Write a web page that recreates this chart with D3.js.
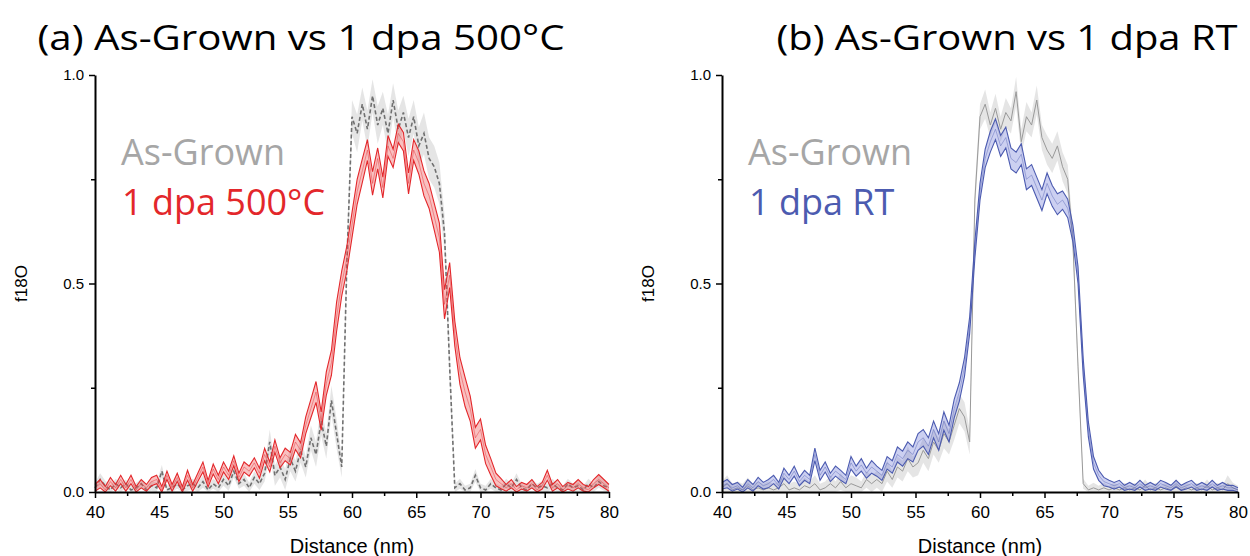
<!DOCTYPE html>
<html>
<head>
<meta charset="utf-8">
<script src="https://cdn.jsdelivr.net/npm/d3@7"></script>
<style>
  body { margin: 0; background: #fff; }
  svg { display: block; }
</style>
</head>
<body>
<div id="chart"></div>
<script>
// distance grid (nm), sampled every 0.4 nm
var distance = d3.range(0, 101).map(function(i) { return +(40 + i * 0.4).toFixed(1); });

// panel (a) As-Grown, mean and half-width of the band
var grownA = [
  0.01, 0.03, 0.015, 0.005, 0.02, 0.01, 0.02, 0.005, 0.01, 0.02,
  0.005, 0.015, 0.01, 0.05, 0.005, 0.01, 0.02, 0.005, 0.015, 0.02,
  0.01, 0.025, 0.005, 0.02, 0.01, 0.03, 0.015, 0.05, 0.02, 0.03,
  0.01, 0.035, 0.02, 0.045, 0.12, 0.04, 0.06, 0.03, 0.08, 0.05,
  0.1, 0.06, 0.13, 0.09, 0.17, 0.11, 0.22, 0.14, 0.06, 0.55,
  0.9, 0.86, 0.93, 0.87, 0.95, 0.88, 0.92, 0.86, 0.94, 0.87,
  0.91, 0.85, 0.9, 0.83, 0.86, 0.8, 0.78, 0.74, 0.62, 0.3,
  0.01, 0.02, 0.005, 0.01, 0.04, 0.01, 0.005, 0.02, 0.01, 0.005,
  0.02, 0.01, 0.03, 0.01, 0.005, 0.02, 0.01, 0.015, 0.01, 0.02,
  0.01, 0.005, 0.02, 0.01, 0.015, 0.005, 0.02, 0.01, 0.025, 0.015, 0.01
];
var grownAErr = [
  0.012, 0.015, 0.012, 0.01, 0.012, 0.012, 0.01, 0.01, 0.012, 0.012,
  0.01, 0.012, 0.012, 0.015, 0.01, 0.012, 0.012, 0.01, 0.012, 0.012,
  0.012, 0.015, 0.01, 0.012, 0.012, 0.015, 0.012, 0.015, 0.012, 0.015,
  0.012, 0.015, 0.015, 0.02, 0.03, 0.025, 0.025, 0.025, 0.03, 0.025,
  0.03, 0.025, 0.03, 0.03, 0.035, 0.03, 0.035, 0.035, 0.025, 0.04,
  0.04, 0.045, 0.04, 0.045, 0.04, 0.045, 0.04, 0.045, 0.04, 0.045,
  0.04, 0.045, 0.04, 0.045, 0.05, 0.05, 0.05, 0.05, 0.045, 0.04,
  0.01, 0.012, 0.01, 0.01, 0.015, 0.01, 0.01, 0.012, 0.01, 0.01,
  0.012, 0.01, 0.015, 0.01, 0.01, 0.012, 0.01, 0.012, 0.01, 0.012,
  0.01, 0.01, 0.012, 0.01, 0.012, 0.01, 0.012, 0.01, 0.015, 0.012, 0.01
];

// panel (a) 1 dpa 500°C
var dpa500 = [
  0.01, 0.02, 0.005, 0.025, 0.01, 0.03, 0.01, 0.03, 0.005, 0.02,
  0.01, 0.025, 0.03, 0.005, 0.04, 0.01, 0.035, 0.005, 0.04, 0.01,
  0.035, 0.06, 0.02, 0.055, 0.03, 0.06, 0.04, 0.075, 0.035, 0.06,
  0.05, 0.07, 0.045, 0.09, 0.06, 0.11, 0.07, 0.09, 0.08, 0.12,
  0.1, 0.16, 0.2, 0.24, 0.17, 0.26, 0.31, 0.42, 0.5, 0.56,
  0.64, 0.72, 0.77, 0.82, 0.74, 0.8, 0.73, 0.83, 0.8, 0.86,
  0.84, 0.74, 0.82, 0.79, 0.74, 0.71, 0.66, 0.61, 0.45, 0.52,
  0.38, 0.29, 0.24, 0.2, 0.13, 0.15, 0.09, 0.06, 0.03, 0.02,
  0.01, 0.02, 0.005, 0.015, 0.01, 0.02, 0.005, 0.015, 0.04, 0.01,
  0.02, 0.005, 0.015, 0.01, 0.02, 0.01, 0.005, 0.02, 0.03, 0.02, 0.01
];
var dpa500Err = [
  0.008, 0.01, 0.008, 0.01, 0.008, 0.01, 0.008, 0.01, 0.008, 0.01,
  0.008, 0.01, 0.01, 0.008, 0.01, 0.008, 0.01, 0.008, 0.012, 0.008,
  0.01, 0.012, 0.008, 0.012, 0.01, 0.012, 0.01, 0.012, 0.01, 0.012,
  0.012, 0.012, 0.012, 0.015, 0.012, 0.015, 0.012, 0.015, 0.015, 0.018,
  0.018, 0.02, 0.022, 0.025, 0.022, 0.028, 0.03, 0.035, 0.03, 0.03,
  0.03, 0.03, 0.028, 0.025, 0.028, 0.025, 0.025, 0.025, 0.022, 0.022,
  0.022, 0.025, 0.025, 0.028, 0.03, 0.03, 0.032, 0.035, 0.035, 0.03,
  0.03, 0.032, 0.035, 0.03, 0.025, 0.025, 0.022, 0.02, 0.015, 0.012,
  0.008, 0.01, 0.008, 0.008, 0.008, 0.01, 0.008, 0.008, 0.012, 0.008,
  0.01, 0.008, 0.008, 0.008, 0.01, 0.008, 0.008, 0.01, 0.012, 0.01, 0.008
];

// panel (b) As-Grown
var grownB = [
  0.01, 0.02, 0.005, 0.01, 0.005, 0.015, 0.005, 0.01, 0.005, 0.01,
  0.005, 0.01, 0.02, 0.005, 0.01, 0.005, 0.015, 0.01, 0.02, 0.005,
  0.01, 0.02, 0.01, 0.025, 0.01, 0.02, 0.015, 0.01, 0.03, 0.02,
  0.03, 0.02, 0.05, 0.03, 0.06, 0.05, 0.08, 0.06, 0.07, 0.1,
  0.08, 0.12, 0.1, 0.14, 0.12, 0.16, 0.2, 0.18, 0.12, 0.7,
  0.9, 0.93, 0.88, 0.92, 0.87, 0.91, 0.89, 0.96, 0.84, 0.9,
  0.88, 0.94, 0.85, 0.82, 0.8, 0.83, 0.78, 0.75, 0.6, 0.3,
  0.02, 0.005, 0.01, 0.005, 0.01, 0.005, 0.01, 0.005, 0.01, 0.005,
  0.01, 0.005, 0.015, 0.005, 0.01, 0.005, 0.01, 0.005, 0.015, 0.005,
  0.01, 0.005, 0.01, 0.005, 0.015, 0.005, 0.01, 0.005, 0.02, 0.01, 0.005
];
var grownBErr = [
  0.015, 0.02, 0.015, 0.015, 0.015, 0.02, 0.015, 0.015, 0.015, 0.015,
  0.015, 0.015, 0.02, 0.015, 0.015, 0.015, 0.02, 0.015, 0.02, 0.015,
  0.015, 0.02, 0.015, 0.02, 0.015, 0.02, 0.02, 0.015, 0.02, 0.02,
  0.02, 0.02, 0.025, 0.02, 0.025, 0.025, 0.03, 0.025, 0.03, 0.03,
  0.03, 0.03, 0.03, 0.035, 0.03, 0.035, 0.035, 0.035, 0.03, 0.03,
  0.03, 0.035, 0.03, 0.035, 0.03, 0.035, 0.03, 0.035, 0.03, 0.035,
  0.03, 0.035, 0.03, 0.035, 0.035, 0.035, 0.035, 0.035, 0.03, 0.025,
  0.012, 0.01, 0.012, 0.01, 0.012, 0.01, 0.012, 0.01, 0.012, 0.01,
  0.012, 0.01, 0.015, 0.01, 0.012, 0.01, 0.012, 0.01, 0.015, 0.01,
  0.012, 0.01, 0.012, 0.01, 0.015, 0.01, 0.012, 0.01, 0.02, 0.012, 0.01
];

// panel (b) 1 dpa RT
var dpaRT = [
  0.015, 0.02, 0.01, 0.015, 0.005, 0.02, 0.01, 0.025, 0.015, 0.02,
  0.03, 0.015, 0.045, 0.03, 0.05, 0.025, 0.04, 0.03, 0.09, 0.04,
  0.06, 0.035, 0.05, 0.04, 0.03, 0.07, 0.05, 0.065, 0.045, 0.06,
  0.05, 0.04, 0.07, 0.06, 0.09, 0.08, 0.1, 0.09, 0.12, 0.13,
  0.11, 0.15, 0.12, 0.17, 0.14, 0.2, 0.24, 0.3, 0.4, 0.58,
  0.72, 0.8, 0.84, 0.87, 0.83, 0.85, 0.8, 0.79, 0.81, 0.75,
  0.76, 0.73, 0.7, 0.74, 0.71, 0.69, 0.7, 0.68, 0.62, 0.52,
  0.3, 0.15, 0.07, 0.04, 0.025, 0.02, 0.015, 0.02, 0.01, 0.015,
  0.01, 0.02, 0.01, 0.015, 0.01, 0.02, 0.015, 0.01, 0.02, 0.01,
  0.015, 0.02, 0.01, 0.015, 0.01, 0.02, 0.01, 0.015, 0.01, 0.01, 0.005
];
var dpaRTErr = [
  0.008, 0.01, 0.008, 0.008, 0.006, 0.01, 0.008, 0.01, 0.008, 0.01,
  0.01, 0.008, 0.012, 0.01, 0.012, 0.01, 0.012, 0.01, 0.015, 0.012,
  0.012, 0.01, 0.012, 0.012, 0.01, 0.015, 0.012, 0.015, 0.012, 0.015,
  0.012, 0.012, 0.015, 0.015, 0.018, 0.018, 0.02, 0.018, 0.02, 0.02,
  0.02, 0.02, 0.02, 0.022, 0.02, 0.022, 0.022, 0.022, 0.02, 0.02,
  0.02, 0.022, 0.025, 0.025, 0.025, 0.025, 0.025, 0.025, 0.025, 0.025,
  0.025, 0.025, 0.025, 0.025, 0.025, 0.025, 0.022, 0.022, 0.02, 0.02,
  0.02, 0.018, 0.015, 0.012, 0.01, 0.008, 0.008, 0.008, 0.006, 0.008,
  0.006, 0.008, 0.006, 0.008, 0.006, 0.008, 0.008, 0.006, 0.008, 0.006,
  0.008, 0.008, 0.006, 0.008, 0.006, 0.008, 0.006, 0.008, 0.006, 0.006, 0.005
];

var xTicks = [40, 45, 50, 55, 60, 65, 70, 75, 80];
var yTicks = [0.0, 0.5, 1.0];

var panels = [
  {title: "(a) As-Grown vs 1 dpa 500°C", left: 95, right: 609, titleX: 301, titleW: 527,
   legend: ["As-Grown", "1 dpa 500°C"],
   grown: grownA, grownErr: grownAErr, grownDash: true,
   dose: dpa500, doseErr: dpa500Err,
   line: "#e3272b", fill: "rgba(238,90,90,0.38)"},
  {title: "(b) As-Grown vs 1 dpa RT", left: 722, right: 1238, titleX: 1007, titleW: 461,
   legend: ["As-Grown", "1 dpa RT"],
   grown: grownB, grownErr: grownBErr, grownDash: false,
   dose: dpaRT, doseErr: dpaRTErr,
   line: "#4c5bb0", fill: "rgba(110,120,215,0.35)"}
];

var svg = d3.select("#chart").append("svg")
  .attr("width", 1250)
  .attr("height", 556);

var plotTop = 75, plotBottom = 492;

panels.forEach(function(p) {
  var x = d3.scaleLinear().domain([40, 80]).range([p.left, p.right]);
  var y = d3.scaleLinear().domain([0, 1]).range([plotBottom, plotTop]);
  var g = svg.append("g");

  var band = function(vals, errs) {
    return d3.area()
      .x(function(d, i) { return x(distance[i]); })
      .y0(function(d, i) { return y(Math.max(0, vals[i] - errs[i])); })
      .y1(function(d, i) { return y(vals[i] + errs[i]); });
  };
  var edge = function(vals, errs, sign) {
    return d3.line()
      .x(function(d, i) { return x(distance[i]); })
      .y(function(d, i) { return y(Math.max(0, vals[i] + sign * errs[i])); });
  };
  var mid = d3.line()
    .x(function(d, i) { return x(distance[i]); })
    .y(function(d) { return y(d); });

  //As-Grown band and line
  g.append("path")
    .datum(p.grown)
    .attr("d", band(p.grown, p.grownErr))
    .style("fill", "#dcdcdc")
    .style("opacity", 0.75);
  g.append("path")
    .datum(p.grown)
    .attr("d", mid)
    .style("fill", "none")
    .style("stroke", p.grownDash ? "#707070" : "#999")
    .style("stroke-width", p.grownDash ? 1.6 : 1)
    .style("stroke-dasharray", p.grownDash ? "4,2.5" : null);

  //irradiated band, edges and mean
  g.append("path")
    .datum(p.dose)
    .attr("d", band(p.dose, p.doseErr))
    .style("fill", p.fill);
  [-1, 1].forEach(function(s) {
    g.append("path")
      .datum(p.dose)
      .attr("d", edge(p.dose, p.doseErr, s))
      .style("fill", "none")
      .style("stroke", p.line)
      .style("stroke-width", 1.1);
  });
  g.append("path")
    .datum(p.dose)
    .attr("d", mid)
    .style("fill", "none")
    .style("stroke", p.line)
    .style("stroke-width", 0.6)
    .style("opacity", 0.7);

  //axes
  var xAxis = g.append("g")
    .attr("transform", "translate(0," + plotBottom + ")")
    .call(d3.axisBottom(x).tickValues(xTicks).tickSize(6).tickSizeOuter(0));
  g.append("g")
    .attr("transform", "translate(0," + plotBottom + ")")
    .call(d3.axisBottom(x).tickValues(d3.range(42.5, 80, 5)).tickSize(4).tickFormat(""))
    .select(".domain").remove();
  var yAxis = g.append("g")
    .attr("transform", "translate(" + p.left + ",0)")
    .call(d3.axisLeft(y).tickValues(yTicks).tickSize(6).tickSizeOuter(0).tickFormat(d3.format(".1f")));
  g.append("g")
    .attr("transform", "translate(" + p.left + ",0)")
    .call(d3.axisLeft(y).tickValues([0.25, 0.75]).tickSize(4).tickFormat(""))
    .select(".domain").remove();

  g.selectAll(".domain").style("stroke", "#000").style("stroke-width", 2);
  g.selectAll(".tick line").style("stroke", "#000").style("stroke-width", 1.5);
  xAxis.selectAll("text")
    .style("font-family", "Liberation Sans, Arial, sans-serif")
    .style("font-size", "17px")
    .style("fill", "#000")
    .attr("dy", "1.0em");
  yAxis.selectAll("text")
    .style("font-family", "Liberation Sans, Arial, sans-serif")
    .style("font-size", "15px")
    .style("fill", "#000")
    .attr("dx", "-2px");

  //axis titles
  g.append("text")
    .text("Distance (nm)")
    .attr("x", (p.left + p.right) / 2)
    .attr("y", 553)
    .attr("text-anchor", "middle")
    .style("font-family", "Liberation Sans, Arial, sans-serif")
    .style("font-size", "20px");
  g.append("text")
    .text("f18O")
    .attr("transform", "translate(" + (p.left - 68) + "," + ((plotTop + plotBottom) / 2) + ") rotate(-90)")
    .attr("text-anchor", "middle")
    .style("font-family", "Liberation Sans, Arial, sans-serif")
    .style("font-size", "17px");

  //panel title
  g.append("text")
    .text(p.title)
    .attr("x", p.titleX)
    .attr("y", 50)
    .attr("text-anchor", "middle")
    .attr("textLength", p.titleW)
    .attr("lengthAdjust", "spacingAndGlyphs")
    .style("font-family", "Open Sans, sans-serif")
    .style("font-size", "35px");

  //legend
  g.append("text")
    .text(p.legend[0])
    .attr("x", p.left + 26)
    .attr("y", 165)
    .style("font-family", "Open Sans, sans-serif")
    .style("font-size", "36px")
    .style("fill", "#a6a6a6");
  g.append("text")
    .text(p.legend[1])
    .attr("x", p.left + 27)
    .attr("y", 215)
    .style("font-family", "Open Sans, sans-serif")
    .style("font-size", "36px")
    .style("fill", p.line);
});
</script>
</body>
</html>
